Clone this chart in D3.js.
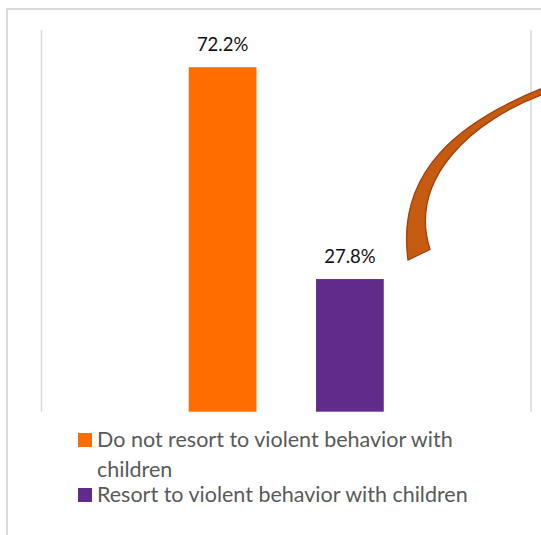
<!DOCTYPE html>
<html>
<head>
<meta charset="utf-8">
<script src="https://cdn.jsdelivr.net/npm/d3@7"></script>
<style>
  html, body { margin: 0; padding: 0; background: #ffffff; }
  svg { display: block; }
</style>
</head>
<body>
<div id="chart"></div>
<script>
// ---- data ----
const categories = ["All respondents"];
const seriesNames = [
  "Do not resort to violent behavior with children",
  "Resort to violent behavior with children"
];
const seriesValues = [72.2, 27.8];
const seriesColors = ["#ff6d00", "#612b8c"];
const yDomainMax = 80;

// ---- layout ----
const W = 541, H = 535;
const plot = { left: 41.5, right: 531, top: 30, bottom: 411.7 };
const FONT = "Lato, 'Open Sans', 'DejaVu Sans', sans-serif";

const svg = d3.select("#chart").append("svg")
  .attr("width", W).attr("height", H);

// outer chart border
svg.append("rect")
  .attr("x", 7).attr("y", 9)
  .attr("width", W + 10).attr("height", H + 10)
  .attr("fill", "none")
  .attr("stroke", "#d9d9d9").attr("stroke-width", 2);

// scales
const x0 = d3.scaleBand().domain(categories)
  .range([plot.left, plot.right]).paddingInner(0).paddingOuter(0.755);
const x1 = d3.scaleBand().domain(seriesNames)
  .range([0, x0.bandwidth()]).paddingInner(0.468).paddingOuter(0);
const y = d3.scaleLinear().domain([0, yDomainMax]).range([plot.bottom, plot.top]);

// vertical border lines of plot area
svg.append("g").selectAll("line")
  .data([plot.left, plot.right])
  .join("line")
  .attr("x1", d => d).attr("x2", d => d)
  .attr("y1", y(yDomainMax)).attr("y2", y(0))
  .attr("stroke", "#d9d9d9").attr("stroke-width", 1.5);

// bars
const rows = seriesNames.map((s, i) => ({ cat: categories[0], series: s, value: seriesValues[i], color: seriesColors[i] }));

svg.append("g").selectAll("rect")
  .data(rows)
  .join("rect")
  .attr("x", d => x0(d.cat) + x1(d.series))
  .attr("y", d => y(d.value))
  .attr("width", x1.bandwidth())
  .attr("height", d => y(0) - y(d.value))
  .attr("fill", d => d.color);

// value labels
svg.append("g").selectAll("text")
  .data(rows)
  .join("text")
  .attr("x", d => x0(d.cat) + x1(d.series) + x1.bandwidth() / 2)
  .attr("y", d => y(d.value) - 16.5)
  .attr("text-anchor", "middle")
  .attr("font-family", FONT)
  .attr("font-size", 18.5)
  .attr("fill", "#111111")
  .text(d => d.value.toFixed(1) + "%");

// curved arrow annotation (decorative shape): two cubic edges
const p = d3.path();
p.moveTo(548, 86);
p.bezierCurveTo(458, 121, 396, 172, 408, 260);   // outer edge
p.lineTo(430, 249.5);                              // cut end
p.bezierCurveTo(408, 180, 470, 120, 548, 92.5);  // inner edge
p.closePath();
svg.append("path")
  .attr("d", p.toString())
  .attr("fill", "#c55a11")
  .attr("stroke", "#a83f0b")
  .attr("stroke-width", 1.3)
  .attr("stroke-linejoin", "miter");

// legend
const legend = svg.append("g").attr("font-family", FONT).attr("font-size", 21.5).attr("fill", "#595959");
const legendItems = [
  { lines: ["Do not resort to violent behavior with", "children"], color: seriesColors[0], baseline: 446.7 },
  { lines: ["Resort to violent behavior with children"], color: seriesColors[1], baseline: 501.7 }
];
legendItems.forEach(item => {
  legend.append("rect")
    .attr("x", 78).attr("y", item.baseline - 13.7)
    .attr("width", 14).attr("height", 14)
    .attr("fill", item.color);
  const t = legend.append("text").attr("x", 97).attr("y", item.baseline);
  item.lines.forEach((ln, i) => {
    t.append("tspan").attr("x", 97).attr("dy", i === 0 ? 0 : 30).text(ln);
  });
});
</script>
</body>
</html>
